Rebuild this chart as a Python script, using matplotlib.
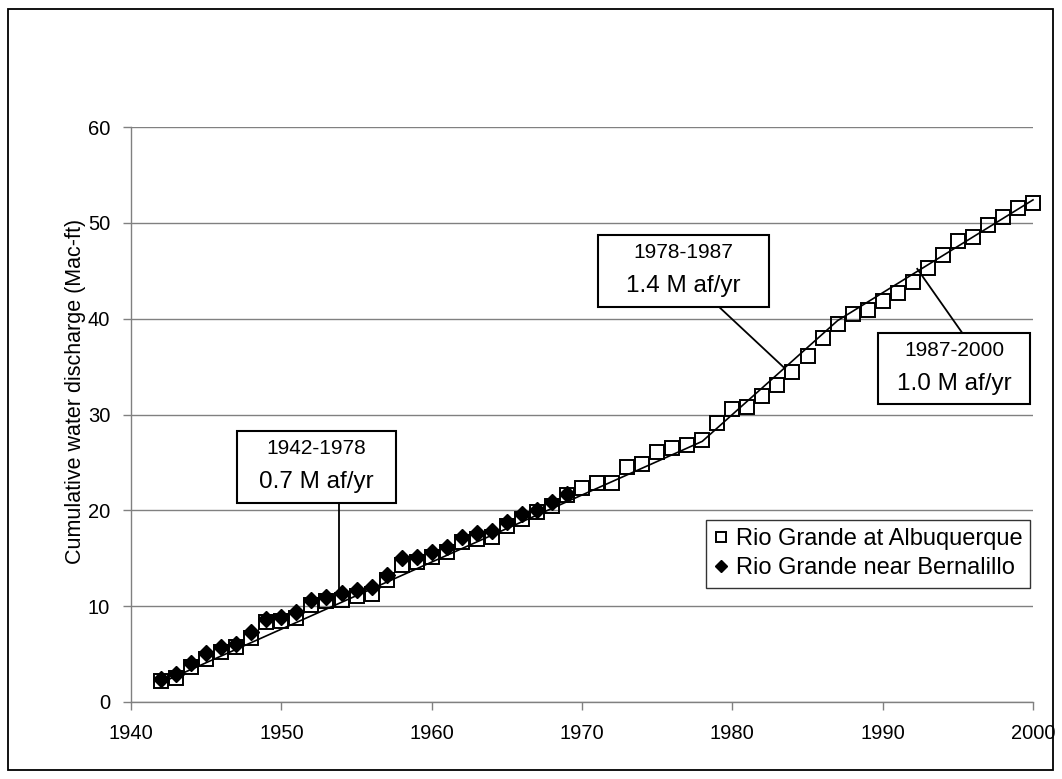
import matplotlib.pyplot as plt
from matplotlib.patches import Rectangle

plt.rcParams["font.family"] = ["Liberation Sans", "DejaVu Sans"]

years_abq = list(range(1942, 2001))
cum_abq = [
    2.2, 2.5, 3.6, 4.5, 5.2, 5.7, 6.7, 8.3, 8.5, 8.8,
    10.1, 10.5, 10.6, 11.1, 11.3, 12.7, 14.3, 14.6, 15.1, 15.7,
    16.7, 17.0, 17.2, 18.4, 19.1, 19.8, 20.5, 21.6, 22.3, 22.8,
    22.9, 24.5, 24.8, 26.1, 26.5, 26.8, 27.3, 29.1, 30.6, 30.8,
    31.9, 33.1, 34.4, 36.1, 38.0, 39.4, 40.5, 40.9, 41.8, 42.7,
    43.8, 45.3, 46.6, 48.1, 48.5, 49.8, 50.6, 51.6, 52.1,
]

years_bern = list(range(1942, 1970))
cum_bern = [
    2.4, 2.9, 4.1, 5.1, 5.7, 6.1, 7.3, 8.7, 8.9, 9.4,
    10.6, 11.0, 11.4, 11.7, 12.0, 13.2, 15.0, 15.1, 15.7, 16.2,
    17.2, 17.6, 17.8, 18.8, 19.6, 20.0, 20.9, 21.7,
]

# piecewise trend line break points
trend_years = [1942, 1978, 1987, 2000]
trend_vals = [2.0, 27.2, 39.8, 52.4]

box_periods = ["1942-1978", "1978-1987", "1987-2000"]
box_rates = ["0.7 M af/yr", "1.4 M af/yr", "1.0 M af/yr"]

fig = plt.figure(figsize=(10.62, 7.79), dpi=100)
ax = fig.add_axes([0.1234, 0.0989, 0.8493, 0.738])

ax.plot(years_abq, cum_abq, linestyle="none", marker="s", markersize=9.5,
        markerfacecolor="none", markeredgecolor="black", markeredgewidth=1.4,
        label="Rio Grande at Albuquerque", zorder=3, clip_on=False)
ax.plot(years_bern, cum_bern, linestyle="none", marker="D", markersize=8,
        color="black", label="Rio Grande near Bernalillo", zorder=4,
        clip_on=False)
ax.plot(trend_years, trend_vals, color="black", linewidth=1.2, zorder=5,
        clip_on=False)

ax.set_xlim(1940, 2000)
ax.set_ylim(0, 60)
ax.set_xticks(range(1940, 2001, 10))
ax.set_yticks(range(0, 61, 10))
ax.yaxis.grid(True, color="#808080", linewidth=1.0)
ax.set_axisbelow(True)
for side in ("top", "right"):
    ax.spines[side].set_visible(False)
for side in ("left", "bottom"):
    ax.spines[side].set_color("#808080")
    ax.spines[side].set_linewidth(1.0)
ax.tick_params(axis="both", direction="out", length=6, width=1.0,
               color="#808080", labelsize=14.5)
ax.tick_params(axis="x", pad=10)
ax.tick_params(axis="y", pad=9)
ax.set_ylabel("Cumulative water discharge (Mac-ft)", fontsize=15.5)
ax.yaxis.set_label_coords(-0.05, 0.54)

leg = ax.legend(loc="upper left", bbox_to_anchor=(0.6375, 0.3165),
                fontsize=17, frameon=True, fancybox=False, edgecolor="black",
                markerscale=0.8, handlelength=0.6, handletextpad=0.3,
                borderpad=0.35, labelspacing=0.3, borderaxespad=0)
leg.get_frame().set_linewidth(1.0)

# annotation boxes: (x0, x1, y_bottom, y_top), pointer start, pointer end
boxes = [
    ((1947.05, 1957.6, 20.8, 28.3), (1953.8, 20.8), (1953.8, 11.7)),
    ((1971.07, 1982.45, 41.25, 48.75), (1979.1, 41.25), (1983.5, 34.8)),
    ((1989.7, 1999.8, 31.1, 38.5), (1995.3, 38.5), (1992.3, 45.2)),
]
for (rect, p0, p1), period, rate in zip(boxes, box_periods, box_rates):
    x0, x1, yb, yt = rect
    ax.plot([p0[0], p1[0]], [p0[1], p1[1]], color="black", linewidth=1.3,
            zorder=6, clip_on=False)
    ax.add_patch(Rectangle((x0, yb), x1 - x0, yt - yb, facecolor="white",
                           edgecolor="black", linewidth=1.5, zorder=7,
                           clip_on=False))
    xc = (x0 + x1) / 2
    ax.text(xc, yt - 1.85, period, ha="center", va="center", fontsize=15,
            zorder=8)
    ax.text(xc, yt - 5.3, rate, ha="center", va="center", fontsize=17.5,
            zorder=8)

fig.add_artist(Rectangle((8 / 1062, 9 / 779), 1045 / 1062, 761 / 779,
                         transform=fig.transFigure, fill=False,
                         edgecolor="black", linewidth=1.3))

fig.savefig("out.png", dpi=100)
